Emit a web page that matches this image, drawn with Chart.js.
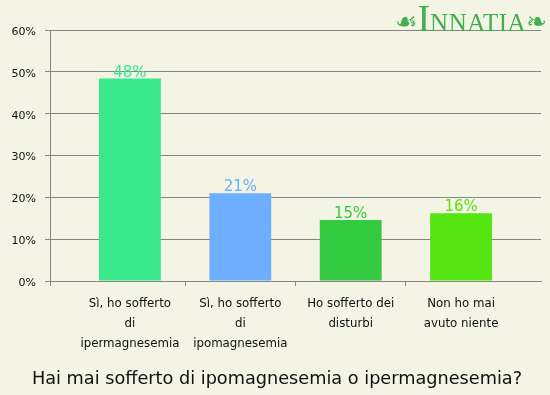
<!DOCTYPE html>
<html>
<head>
<meta charset="utf-8">
<script src="https://cdn.jsdelivr.net/npm/chart.js@4"></script>
<style>
  html, body { margin: 0; padding: 0; background: #f3f4e3; }
  #wrap { position: relative; width: 550px; height: 395px; }
  #logo {
    position: absolute; left: 395px; top: 0px; height: 36px;
    font-family: "Liberation Serif", serif; color: #43ad52;
    white-space: nowrap; line-height: 36px;
  }
  #logo .orn { font-family: "DejaVu Sans"; font-size: 25px; vertical-align: 1px; }
  #logo .big { font-size: 38px; }
  #logo .sc { font-size: 25px; letter-spacing: 0.5px; }
  #title {
    position: absolute; left: 0; width: 554px; top: 366px;
    text-align: center; font-family: "DejaVu Sans"; font-size: 17.7px;
    color: #111; line-height: 24px;
  }
</style>
</head>
<body>
<div id="wrap">
  <canvas id="chart" width="550" height="395"></canvas>
  <div id="logo"><span class="orn">☙</span><span class="big">I</span><span class="sc">NNATIA</span><span class="orn">❧</span></div>
  <div id="title"></div>
</div>
<script>
const categories = [
  ["Sì, ho sofferto", "di", "ipermagnesemia"],
  ["Sì, ho sofferto", "di", "ipomagnesemia"],
  ["Ho sofferto dei", "disturbi"],
  ["Non ho mai", "avuto niente"],
];
const values = [48.4, 21, 14.6, 16.2];
const valueLabels = ["48%", "21%", "15%", "16%"];
const barColors = ["#38e889", "#6daeff", "#33c940", "#55e512"];
const yTicks = [0, 10, 20, 30, 40, 50, 60];
const title = "Hai mai sofferto di ipomagnesemia o ipermagnesemia?";

const X_MIN = -0.724;
const X_MAX = 3.724;
const gridColor = "#858585";

document.getElementById("title").textContent = title;

// value labels above the bars
const valueLabelPlugin = {
  id: "valueLabels",
  afterDatasetsDraw(chart) {
    const ctx = chart.ctx;
    const meta = chart.getDatasetMeta(0);
    ctx.save();
    ctx.font = "15px 'DejaVu Sans'";
    ctx.textAlign = "center";
    ctx.textBaseline = "alphabetic";
    meta.data.forEach((bar, i) => {
      ctx.fillStyle = barColors[i];
      ctx.fillText(valueLabels[i], bar.x, bar.y - 2);
    });
    ctx.restore();
  },
};

const bgPlugin = {
  id: "bg",
  beforeDraw(chart) {
    const ctx = chart.ctx;
    ctx.save();
    ctx.fillStyle = "#f3f4e3";
    ctx.fillRect(0, 0, chart.width, chart.height);
    ctx.restore();
  },
};

new Chart(document.getElementById("chart"), {
  type: "bar",
  data: {
    datasets: [
      {
        data: values.map((v, i) => ({ x: i, y: v })),
        backgroundColor: barColors,
        borderWidth: 0,
        categoryPercentage: 1,
        // the tick marks sit half a category apart, so the bar ruler sees half widths
        barPercentage: 1.12,
      },
    ],
  },
  plugins: [bgPlugin, valueLabelPlugin],
  options: {
    responsive: false,
    animation: false,
    layout: { padding: { top: 30, right: 9, left: 0, bottom: 0 } },
    plugins: {
      legend: { display: false },
      tooltip: { enabled: false },
    },
    scales: {
      x: {
        type: "linear",
        min: X_MIN,
        max: X_MAX,
        offset: false,
        afterBuildTicks(scale) {
          scale.ticks = [X_MIN, 0, 0.5, 1, 1.5, 2, 2.5, 3].map((v) => ({ value: v }));
        },
        afterFit(scale) {
          scale.height = 114;
        },
        grid: {
          offset: false,
          drawOnChartArea: false,
          tickLength: 5,
          tickColor: (c) =>
            c.tick && Number.isInteger(c.tick.value) ? "rgba(0,0,0,0)" : gridColor,
        },
        border: { color: gridColor },
        ticks: {
          autoSkip: false,
          maxRotation: 0,
          padding: 7.5,
          color: "#111",
          font: { family: "DejaVu Sans", size: 11.8, lineHeight: 1.7 },
          callback: (v) => (Number.isInteger(v) ? categories[v] : ""),
        },
      },
      y: {
        min: 0,
        max: 60,
        afterBuildTicks(scale) {
          scale.ticks = yTicks.map((v) => ({ value: v }));
        },
        afterFit(scale) {
          scale.width = 50;
        },
        grid: { color: gridColor, tickLength: 5 },
        border: { color: gridColor },
        ticks: {
          padding: 9,
          labelOffset: 2,
          color: "#111",
          font: { family: "DejaVu Sans", size: 11 },
          callback: (v) => v + "%",
        },
      },
    },
  },
});
</script>
</body>
</html>
